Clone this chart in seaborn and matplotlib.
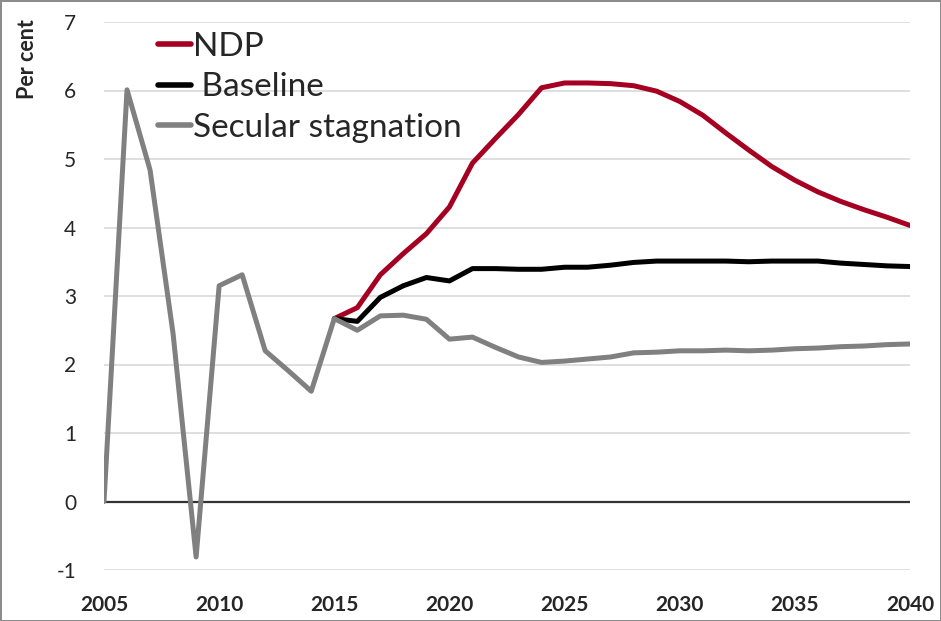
import matplotlib
matplotlib.use("Agg")
import matplotlib.pyplot as plt
import seaborn as sns
import pandas as pd

years_hist = list(range(2005, 2041))
secular = [0.0, 6.01, 4.84, 2.45, -0.81, 3.15, 3.31, 2.2, 1.91, 1.61,
           2.67, 2.50, 2.71, 2.72, 2.66, 2.37, 2.40, 2.25, 2.11, 2.03,
           2.05, 2.08, 2.11, 2.17, 2.18, 2.20, 2.20, 2.21, 2.20, 2.21,
           2.23, 2.24, 2.26, 2.27, 2.29, 2.30]
years_proj = list(range(2015, 2041))
ndp = [2.67, 2.83, 3.31, 3.62, 3.91, 4.30, 4.94, 5.30, 5.65, 6.04,
       6.11, 6.11, 6.10, 6.07, 5.99, 5.84, 5.64, 5.38, 5.13, 4.89,
       4.69, 4.52, 4.38, 4.26, 4.15, 4.03]
baseline = [2.67, 2.63, 2.98, 3.15, 3.27, 3.22, 3.40, 3.40, 3.39, 3.39,
            3.42, 3.42, 3.45, 3.49, 3.51, 3.51, 3.51, 3.51, 3.50, 3.51,
            3.51, 3.51, 3.48, 3.46, 3.44, 3.43]
series_names = ["NDP", " Baseline", "Secular stagnation"]
colors = ["#A50021", "#000000", "#808080"]
x_ticks = [2005, 2010, 2015, 2020, 2025, 2030, 2035, 2040]
y_ticks = [-1, 0, 1, 2, 3, 4, 5, 6, 7]

df = pd.concat([
    pd.DataFrame({"year": years_proj, "value": ndp, "series": series_names[0]}),
    pd.DataFrame({"year": years_proj, "value": baseline, "series": series_names[1]}),
    pd.DataFrame({"year": years_hist, "value": secular, "series": series_names[2]}),
])

sns.set_theme(style="white")
plt.rcParams["font.family"] = ["Lato", "DejaVu Sans"]

fig = plt.figure(figsize=(9.41, 6.21), dpi=100)
fig.patch.set_edgecolor("#8c8c8c")
fig.patch.set_linewidth(2)
ax = fig.add_axes([104 / 941, 1 - 570 / 621, (910 - 104) / 941, (570 - 22) / 621])

for y in y_ticks:
    if y != 0:
        ax.axhline(y, color="#d9d9d9", lw=1.2, zorder=0)
ax.axhline(0, color="#333333", lw=1.6, zorder=1)

sns.lineplot(data=df, x="year", y="value", hue="series", hue_order=series_names,
             palette=dict(zip(series_names, colors)), linewidth=3.6, ax=ax,
             legend=True, zorder=3)

ax.set_xlim(2005, 2040)
ax.set_ylim(-1, 7)
ax.set_xticks(x_ticks)
ax.set_yticks(y_ticks)
ax.set_xticklabels([str(t) for t in x_ticks], fontsize=15, fontweight="bold")
ax.set_yticklabels([str(t) for t in y_ticks], fontsize=15)
ax.tick_params(axis="x", length=0, pad=18)
ax.tick_params(axis="y", length=0, pad=20)
for s in ax.spines.values():
    s.set_visible(False)
ax.set_xlabel("")
ax.set_ylabel("")
fig.text(28 / 941, 1 - 59 / 621, "Per cent", rotation=90, ha="center", va="center",
         fontsize=15.5, fontweight="bold")

leg = ax.legend(loc="upper left", bbox_to_anchor=(158 / 941, 1 - 32 / 621),
                bbox_transform=fig.transFigure, frameon=False, fontsize=24,
                handlelength=1.0, handletextpad=0.05, labelspacing=0.31,
                borderaxespad=0, borderpad=0)
for line in leg.get_lines():
    line.set_linewidth(4)

fig.savefig("out.png", dpi=100, edgecolor=fig.get_edgecolor())
